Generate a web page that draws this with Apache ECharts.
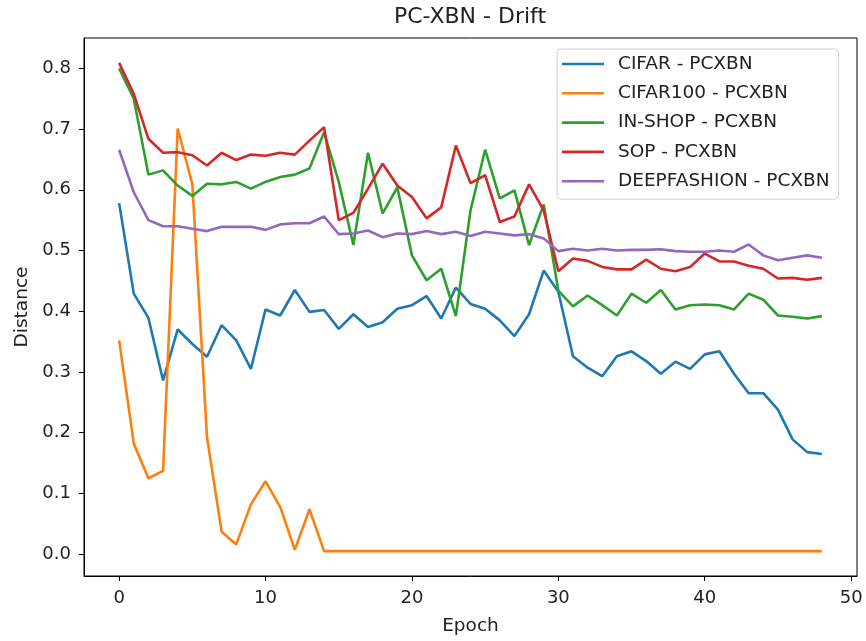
<!DOCTYPE html>
<html>
<head>
<meta charset="utf-8">
<script src="https://cdn.jsdelivr.net/npm/echarts@6/dist/echarts.min.js"></script>
<style>
    html, body { margin: 0; padding: 0; background: #fff; }
    #chart { width: 866px; height: 641px; }
</style>
</head>
<body>
<div id="chart"></div>
<script>
/* 横轴：epoch 0..48 */
const epochs = [];
for (let i = 0; i <= 48; i++) epochs.push(i);

/* 刻度 */
const xTicks = [0, 10, 20, 30, 40, 50];
const yTicks = [0, 0.1, 0.2, 0.3, 0.4, 0.5, 0.6, 0.7, 0.8];

/* 各数据集的 drift */
const cifar = [
    0.578, 0.429, 0.389, 0.286, 0.370, 0.346, 0.325, 0.377, 0.352, 0.305,
    0.403, 0.393, 0.435, 0.399, 0.402, 0.371, 0.395, 0.374, 0.382, 0.404,
    0.410, 0.425, 0.388, 0.439, 0.412, 0.404, 0.385, 0.359, 0.395, 0.467,
    0.432, 0.326, 0.307, 0.293, 0.326, 0.334, 0.318, 0.297, 0.317, 0.305,
    0.329, 0.334, 0.297, 0.265, 0.265, 0.238, 0.189, 0.168, 0.165
];

const cifar100 = [
    0.352, 0.182, 0.125, 0.137, 0.701, 0.609, 0.193, 0.037, 0.016, 0.082,
    0.120, 0.078, 0.007, 0.074, 0.005, 0.005, 0.005, 0.005, 0.005, 0.005,
    0.005, 0.005, 0.005, 0.005, 0.005, 0.005, 0.005, 0.005, 0.005, 0.005,
    0.005, 0.005, 0.005, 0.005, 0.005, 0.005, 0.005, 0.005, 0.005, 0.005,
    0.005, 0.005, 0.005, 0.005, 0.005, 0.005, 0.005, 0.005, 0.005
];

const inShop = [
    0.800, 0.750, 0.625, 0.632, 0.607, 0.590, 0.610, 0.609, 0.613, 0.602,
    0.613, 0.621, 0.625, 0.635, 0.695, 0.613, 0.509, 0.661, 0.561, 0.604,
    0.492, 0.451, 0.470, 0.392, 0.566, 0.666, 0.586, 0.599, 0.509, 0.576,
    0.434, 0.408, 0.426, 0.410, 0.393, 0.429, 0.414, 0.435, 0.403, 0.410,
    0.411, 0.410, 0.403, 0.429, 0.419, 0.393, 0.391, 0.388, 0.392
];

const sop = [
    0.809, 0.758, 0.684, 0.661, 0.662, 0.657, 0.640, 0.661, 0.649, 0.658,
    0.656, 0.661, 0.658, 0.681, 0.703, 0.550, 0.562, 0.602, 0.643, 0.607,
    0.588, 0.553, 0.571, 0.673, 0.611, 0.624, 0.547, 0.556, 0.609, 0.566,
    0.466, 0.487, 0.483, 0.473, 0.469, 0.469, 0.485, 0.470, 0.466, 0.473,
    0.495, 0.482, 0.482, 0.475, 0.470, 0.454, 0.455, 0.452, 0.455
];

const deepFashion = [
    0.666, 0.596, 0.550, 0.540, 0.540, 0.536, 0.532, 0.539, 0.539, 0.539,
    0.534, 0.543, 0.545, 0.545, 0.556, 0.527, 0.528, 0.533, 0.522, 0.528,
    0.527, 0.532, 0.527, 0.531, 0.524, 0.531, 0.528, 0.525, 0.527, 0.520,
    0.499, 0.503, 0.500, 0.503, 0.500, 0.501, 0.501, 0.502, 0.499, 0.498,
    0.498, 0.500, 0.498, 0.510, 0.492, 0.484, 0.488, 0.492, 0.488
];

const seriesNames = [
    "CIFAR - PCXBN",
    "CIFAR100 - PCXBN",
    "IN-SHOP - PCXBN",
    "SOP - PCXBN",
    "DEEPFASHION - PCXBN"
];

const seriesData = [cifar, cifar100, inShop, sop, deepFashion];

const colors = ["#1f77b4", "#ff7f0e", "#2ca02c", "#d62728", "#9467bd"];

const textColor = "#222";
const font = "DejaVu Sans";

const chart = echarts.init(document.getElementById("chart"), null, { renderer: "canvas" });

chart.setOption({

    animation: false,

    color: colors,

    title: {
        text: "PC-XBN - Drift",
        left: 470,
        top: 6,
        textAlign: "center",
        padding: 0,
        textStyle: {
            fontFamily: font,
            fontSize: 22,
            fontWeight: "normal",
            color: textColor
        }
    },

    legend: {
        orient: "vertical",
        left: 557,
        top: 49,
        align: "left",
        icon: "rect",
        itemWidth: 42,
        itemHeight: 2.6,
        itemGap: 9.3,
        padding: [5, 9, 8, 5],
        backgroundColor: "rgba(255,255,255,0.8)",
        borderColor: "#d0d0d0",
        borderWidth: 1,
        borderRadius: 4,
        textStyle: {
            fontFamily: font,
            fontSize: 18.5,
            lineHeight: 20,
            color: textColor,
            padding: [0, 0, 0, 9]
        },
        data: seriesNames
    },

    grid: {
        left: 84,
        right: 9,
        top: 38,
        bottom: 65,
        show: true,
        borderColor: "#000",
        borderWidth: 1,
        containLabel: false
    },

    xAxis: {
        type: "value",
        min: -2.4,
        max: 50.4,
        name: "Epoch",
        nameLocation: "middle",
        nameGap: 41,
        nameTextStyle: {
            fontFamily: font,
            fontSize: 18.5,
            color: textColor
        },
        axisLine: { show: true, onZero: false, lineStyle: { color: "#000", width: 1 } },
        axisTick: {
            show: true,
            length: 5,
            customValues: xTicks,
            lineStyle: { color: "#000", width: 1 }
        },
        axisLabel: {
            customValues: xTicks,
            margin: 13,
            fontFamily: font,
            fontSize: 18,
            color: textColor
        },
        splitLine: { show: false }
    },

    yAxis: {
        type: "value",
        min: -0.036,
        max: 0.85,
        name: "Distance",
        nameLocation: "middle",
        nameGap: 52,
        nameTextStyle: {
            fontFamily: font,
            fontSize: 18.5,
            color: textColor
        },
        axisLine: { show: true, onZero: false, lineStyle: { color: "#000", width: 1 } },
        axisTick: {
            show: true,
            length: 5,
            customValues: yTicks,
            lineStyle: { color: "#000", width: 1 }
        },
        axisLabel: {
            customValues: yTicks,
            margin: 13,
            fontFamily: font,
            fontSize: 18,
            color: textColor,
            formatter: function(v){
                return v.toFixed(1);
            }
        },
        splitLine: { show: false }
    },

    series: seriesNames.map((name, k) => {

        return {
            name: name,
            type: "line",
            symbol: "none",
            data: epochs.map((e, i) => [e, seriesData[k][i]]),
            lineStyle: { width: 2.6, color: colors[k] },
            itemStyle: { color: colors[k] }
        };
    })
});
</script>
</body>
</html>
